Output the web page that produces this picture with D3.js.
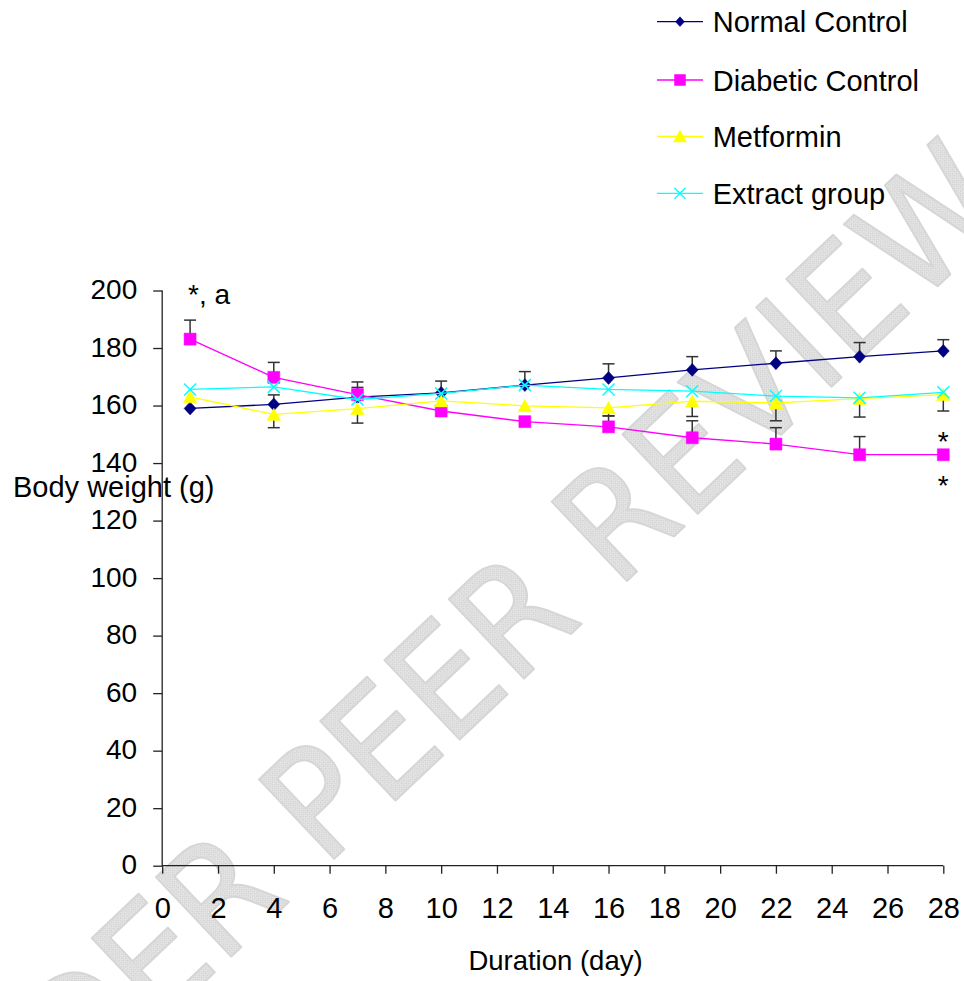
<!DOCTYPE html>
<html>
<head>
<meta charset="utf-8">
<script src="https://cdn.jsdelivr.net/npm/d3@7"></script>
<style>
  html, body { margin: 0; padding: 0; background: #fff; }
  svg { display: block; }
  text { font-family: "Liberation Sans", Arial, Helvetica, sans-serif; fill: #000; }
</style>
</head>
<body>
<script>
// ---------- data ----------
const days = [1, 4, 7, 10, 13, 16, 19, 22, 25, 28];
const seriesNames = ["Normal Control", "Diabetic Control", "Metformin", "Extract group"];
const normalControl   = [159.0, 160.4, 162.9, 164.4, 167.1, 169.6, 172.4, 174.7, 177.0, 179.0];
const diabeticControl = [183.1, 169.8, 163.8, 158.1, 154.4, 152.6, 148.8, 146.6, 142.9, 142.9];
const metformin       = [163.0, 156.9, 158.9, 161.6, 159.9, 159.2, 161.5, 160.9, 162.4, 163.8];
const extractGroup    = [165.6, 166.5, 162.1, 164.2, 167.1, 165.6, 165.0, 163.3, 162.7, 164.6];
// error bar sizes (shown in one direction only)
const normalErr   = [0, 3.3, 3.4, 4.1, 4.7, 4.9, 4.6, 4.3, 4.9, 3.9];   // upward
const diabeticErr = [6.6, 5.2, 4.4, 0, 0, 3.8, 5.9, 5.7, 6.3, 0];      // upward
const metforminErr = [0, 4.6, 5.0, 0, 0, 2.8, 5.3, 6.2, 6.4, 5.7];     // downward
const extractErr  = [0, 0, 0, 0, 0, 0, 0, 0, 0, 0];
const xTicks = [0, 2, 4, 6, 8, 10, 12, 14, 16, 18, 20, 22, 24, 26, 28];
const yTicks = [0, 20, 40, 60, 80, 100, 120, 140, 160, 180, 200];
const annotations = [
  { day: 1, value: 183.1, text: "*, a", pos: "topLeft" },
  { day: 28, value: 158.1, text: "*", pos: "below" },
  { day: 28, value: 142.9, text: "*", pos: "below" }
];

// ---------- setup ----------
const W = 964, H = 981;
const svg = d3.select("body").append("svg").attr("width", W).attr("height", H);

const x = d3.scaleLinear().domain([0, 28]).range([162.2, 943.3]);
const y = d3.scaleLinear().domain([0, 200]).range([865.7, 290.5]);

// ---------- watermark ----------
const defs = svg.append("defs");
const pat = defs.append("pattern").attr("id", "hatch")
  .attr("width", 3).attr("height", 3).attr("patternUnits", "userSpaceOnUse");
pat.append("rect").attr("width", 3).attr("height", 3).attr("fill", "#ececec");
pat.append("rect").attr("width", 1.5).attr("height", 1.5).attr("fill", "#cccccc");
pat.append("rect").attr("x", 1.5).attr("y", 1.5).attr("width", 1.5).attr("height", 1.5).attr("fill", "#d4d4d4");

const wm = svg.append("g").attr("transform", "translate(975,168) rotate(-43.5)");
wm.append("text")
  .attr("x", 0).attr("y", 60)
  .attr("text-anchor", "end")
  .attr("textLength", 1500)
  .attr("lengthAdjust", "spacingAndGlyphs")
  .style("font-family", "'DejaVu Sans', sans-serif")
  .style("font-size", "150px")
  .style("fill", "url(#hatch)")
  .style("stroke", "#d6d6d6")
  .style("stroke-width", 2)
  .style("stroke-linejoin", "round")
  .text("UNDER PEER REVIEW");

// ---------- axes ----------
const axisColor = "#222";
const yAxis = svg.append("g").attr("transform", `translate(${x(0)},0)`)
  .call(d3.axisLeft(y).tickValues(yTicks).tickSize(9).tickFormat(d3.format("d")));
yAxis.select(".domain").attr("d", `M0,${y(200)}V${y(0)}`).attr("stroke", axisColor).attr("stroke-width", 1.3);
yAxis.selectAll(".tick line").attr("stroke", axisColor).attr("stroke-width", 1.3);
yAxis.selectAll(".tick text")
  .attr("x", -25).attr("dy", "0.29em")
  .style("font-size", "28px").style("font-family", "'Liberation Sans', Arial, sans-serif").attr("fill", "#000");

const xAxis = svg.append("g").attr("transform", `translate(0,${y(0)})`)
  .call(d3.axisBottom(x).tickValues(xTicks).tickSize(8).tickFormat(d3.format("d")));
xAxis.select(".domain").attr("d", `M${x(0)},0H${x(28)}`).attr("stroke", axisColor).attr("stroke-width", 1.3);
xAxis.selectAll(".tick line").attr("stroke", axisColor).attr("stroke-width", 1.3);
xAxis.selectAll(".tick text")
  .attr("y", 52).attr("dy", 0)
  .style("font-size", "29px").style("font-family", "'Liberation Sans', Arial, sans-serif").attr("fill", "#000");

svg.append("text").attr("x", 13).attr("y", 496.5)
  .style("font-size", "29px").text("Body weight (g)");
svg.append("text").attr("x", 555.5).attr("y", 970).attr("text-anchor", "middle")
  .style("font-size", "27.5px").text("Duration (day)");

// ---------- markers ----------
function markerPath(type, s) {
  const h = s / 2;
  if (type === "diamond") return `M0,${-h * 1.08}L${h},0L0,${h * 1.08}L${-h},0Z`;
  if (type === "square") return `M${-h},${-h}H${h}V${h}H${-h}Z`;
  if (type === "triangle") return `M0,${-h * 1.0}L${h * 1.08},${h * 0.95}L${-h * 1.08},${h * 0.95}Z`;
  if (type === "cross") return `M${-h},${-h}L${h},${h}M${-h},${h}L${h},${-h}`;
}

const series = [
  { name: seriesNames[0], values: normalControl, err: normalErr, dir: 1, color: "#000080", marker: "diamond", size: 12, lsize: 9 },
  { name: seriesNames[1], values: diabeticControl, err: diabeticErr, dir: 1, color: "#FF00FF", marker: "square", size: 12, lsize: 11 },
  { name: seriesNames[2], values: metformin, err: metforminErr, dir: -1, color: "#FFFF00", marker: "triangle", size: 12.5, lsize: 12 },
  { name: seriesNames[3], values: extractGroup, err: extractErr, dir: 1, color: "#00FFFF", marker: "cross", size: 12, lsize: 11 }
];

const line = d3.line().x(d => x(d.day)).y(d => y(d.v));

series.forEach(s => {
  const pts = days.map((d, i) => ({ day: d, v: s.values[i], e: s.err[i] }));
  const g = svg.append("g");
  // error bars
  const eb = g.selectAll(".eb").data(pts.filter(p => p.e > 0)).enter().append("g");
  eb.append("line")
    .attr("x1", p => x(p.day)).attr("x2", p => x(p.day))
    .attr("y1", p => y(p.v)).attr("y2", p => y(p.v + s.dir * p.e))
    .attr("stroke", "#333").attr("stroke-width", 1.5);
  eb.append("line")
    .attr("x1", p => x(p.day) - 6).attr("x2", p => x(p.day) + 6)
    .attr("y1", p => y(p.v + s.dir * p.e)).attr("y2", p => y(p.v + s.dir * p.e))
    .attr("stroke", "#333").attr("stroke-width", 1.5);
  g.append("path").datum(pts).attr("d", line)
    .attr("fill", "none").attr("stroke", s.color).attr("stroke-width", 1.3);
  g.selectAll(".m").data(pts).enter().append("path")
    .attr("transform", p => `translate(${x(p.day)},${y(p.v)})`)
    .attr("d", markerPath(s.marker, s.size))
    .attr("fill", s.marker === "cross" ? "none" : s.color)
    .attr("stroke", s.color)
    .attr("stroke-width", s.marker === "cross" ? 1.5 : 0.5);
});

// ---------- annotations ----------
annotations.forEach(a => {
  if (a.pos === "topLeft") {
    svg.append("text").attr("x", x(a.day) - 2).attr("y", 304)
      .style("font-size", "28px").text(a.text);
  } else {
    svg.append("text").attr("x", x(a.day)).attr("y", y(a.value) + 40).attr("text-anchor", "middle")
      .style("font-size", "28px").text(a.text);
  }
});

// ---------- legend ----------
const legendRows = [21.7, 80, 136.3, 193.3];
const leg = svg.append("g");
series.forEach((s, i) => {
  const ly = legendRows[i];
  leg.append("line").attr("x1", 657).attr("x2", 703).attr("y1", ly).attr("y2", ly)
    .attr("stroke", s.color).attr("stroke-width", 1.3);
  leg.append("path").attr("transform", `translate(680,${ly})`)
    .attr("d", markerPath(s.marker, s.lsize))
    .attr("fill", s.marker === "cross" ? "none" : s.color)
    .attr("stroke", s.color).attr("stroke-width", s.marker === "cross" ? 1.3 : 0.5);
  leg.append("text").attr("x", 712.7).attr("y", ly + 10.5)
    .style("font-size", "29px").text(s.name);
});
</script>
</body>
</html>
